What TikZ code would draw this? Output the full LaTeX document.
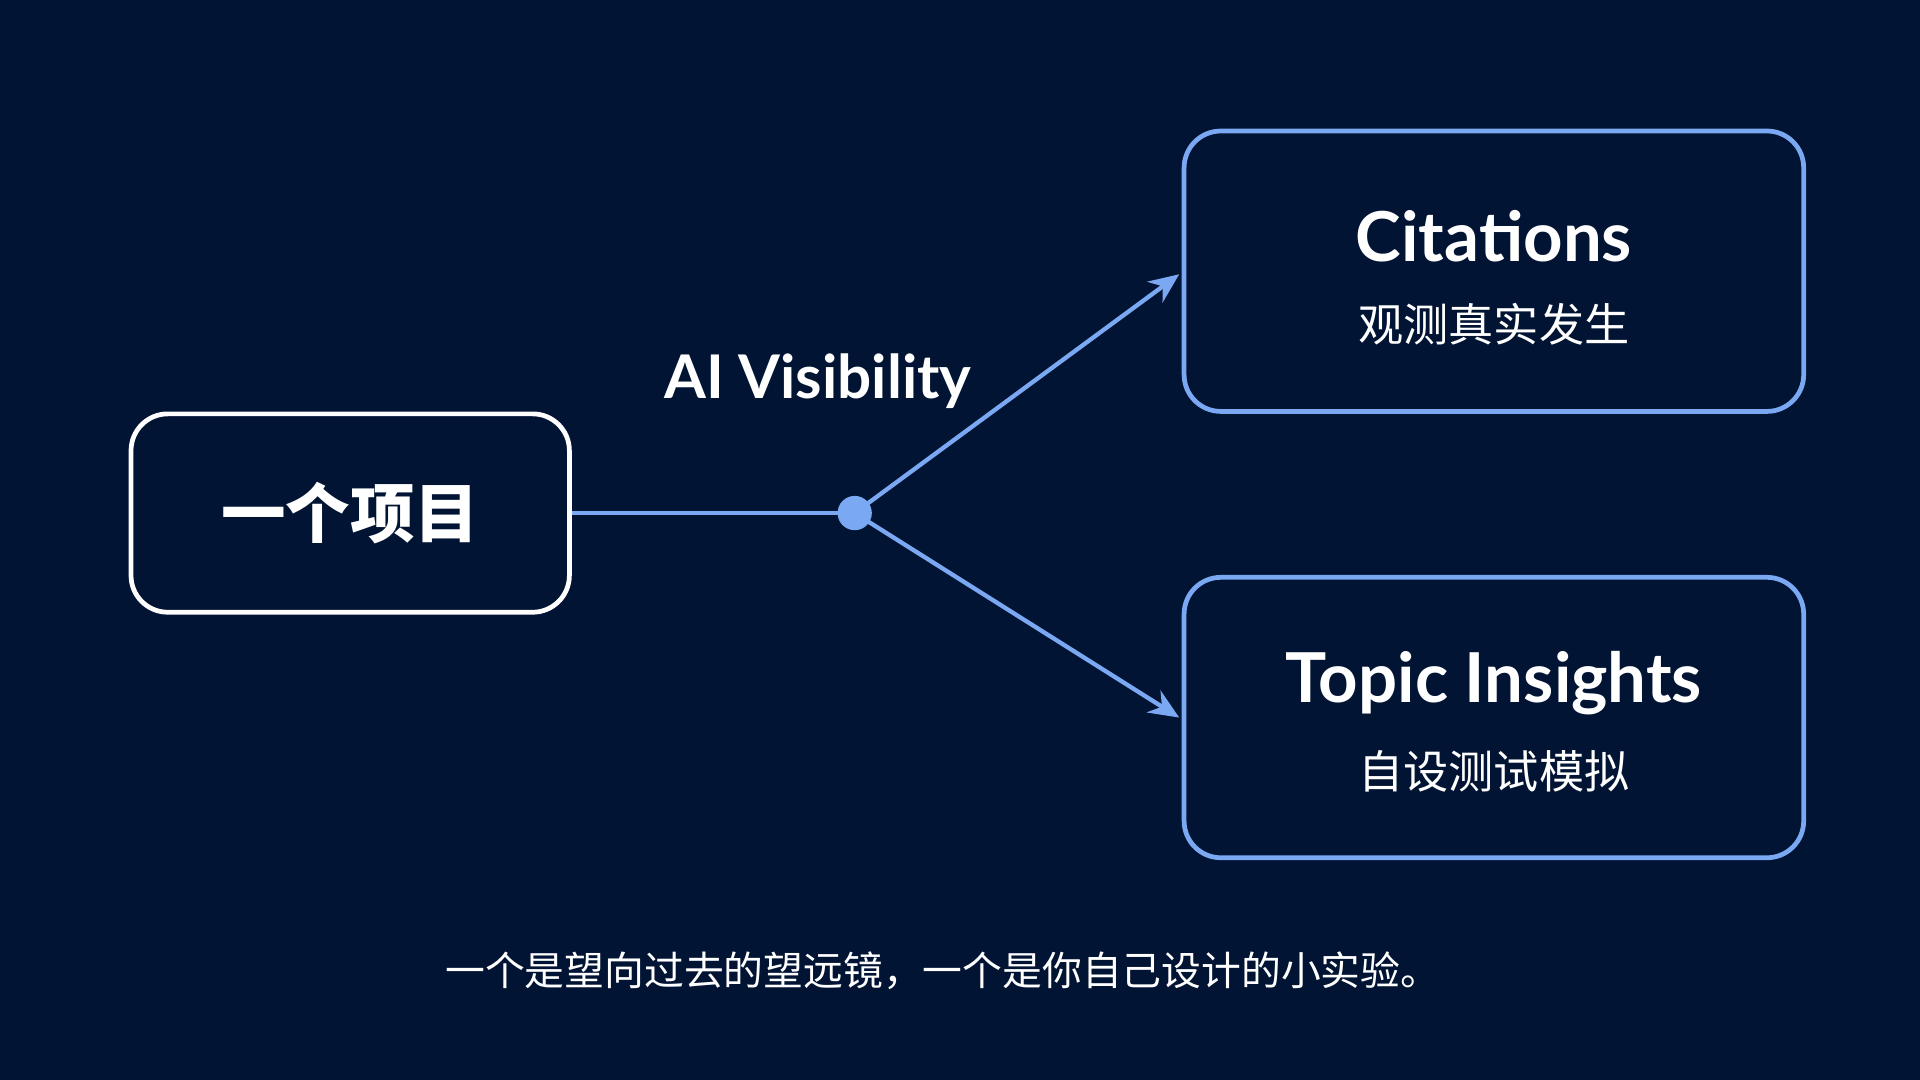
\documentclass[tikz,border=0pt]{standalone}
\usepackage{fontspec}
\setmainfont{Noto Sans CJK SC}
\newfontfamily\latinfont{Lato}
\usetikzlibrary{arrows.meta,positioning,calc}
\definecolor{bgnavy}{HTML}{021433}
\definecolor{linkblue}{HTML}{7BA8F2}
\tikzset{
  box/.style={draw=linkblue, line width=2.2pt, rounded corners=0.6cm, fill=bgnavy},
  title/.style={text=white, font=\latinfont\bfseries\fontsize{32}{36}\selectfont},
  sub/.style={text=white, font=\fontsize{21}{26}\selectfont},
  link/.style={linkblue, line width=2pt},
}
\begin{document}
\begin{tikzpicture}[x=0.02cm, y=0.02cm]
  % Background
  \fill[bgnavy] (0,0) rectangle (1568,882);
  \useasboundingbox (0,0) rectangle (1568,882);

  % Boxes
  \node[box, draw=white, text=white, minimum width=358*0.02cm, minimum height=162*0.02cm] (item) at (286,463)
       {\fontsize{30}{34}\selectfont\bfseries 一个项目};
  \node[box, minimum width=506*0.02cm, minimum height=229*0.02cm] (cite) at (1220,660.5) {};
  \node[box, minimum width=506*0.02cm, minimum height=229*0.02cm] (topic) at (1220,296) {};
  \node[title] (citeTitle) at (1220,689) {Citations};
  \node[sub] (citeSub) at (1220,617) {观测真实发生};
  \node[title] (topicTitle) at (1220,324) {Topic Insights};
  \node[sub] (topicSub) at (1220,252) {自设测试模拟};

  % Branch point
  \coordinate (hub) at (698,463);
  \coordinate (citeIn) at (963,658);
  \coordinate (topicIn) at (963,296);
  \draw[link] (item.east) -- (hub);
  \draw[link, -{Stealth[length=14pt,width=12pt]}] (hub) -- (citeIn);
  \draw[link, -{Stealth[length=14pt,width=12pt]}] (hub) -- (topicIn);
  \fill[linkblue] (hub) circle (14);

  % Labels
  \node[title, font=\latinfont\bfseries\fontsize{28}{32}\selectfont] (vis) at (668,571) {AI Visibility};
  \node[text=white] (caption) at (770,89)
       {\fontsize{18.5}{22}\selectfont 一个是望向过去的望远镜，一个是你自己设计的小实验。};
\end{tikzpicture}
\end{document}
